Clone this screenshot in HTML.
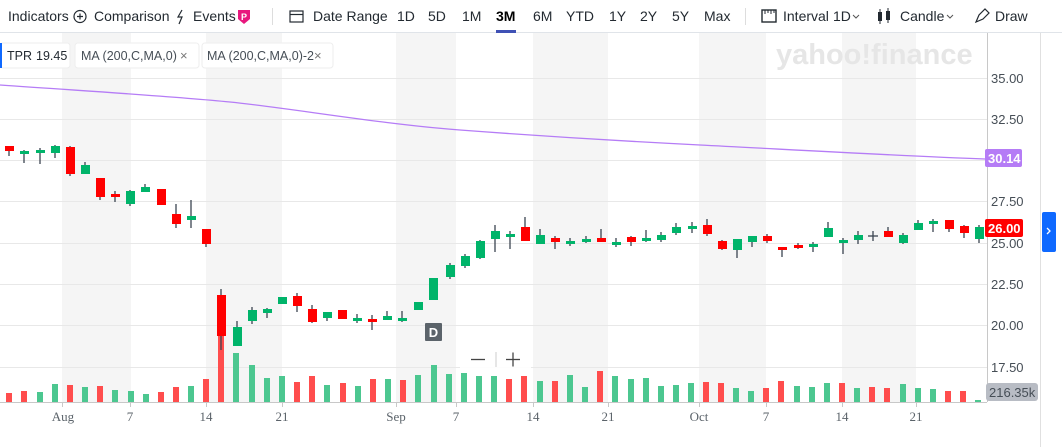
<!DOCTYPE html>
<html><head><meta charset="utf-8"><style>
body{margin:0;width:1062px;height:447px;overflow:hidden;background:#fff;font-family:"Liberation Sans",sans-serif;}
svg{position:absolute;left:0;top:0}
.tb{font-size:14px;fill:#232a31}
.ax{font-size:13px;fill:#464e56}
.xl{font-family:"Liberation Serif",serif;font-size:13px;fill:#5b636a}
</style></head><body>
<svg width="1062" height="447" xmlns="http://www.w3.org/2000/svg">
<g fill="#f5f5f5">
<rect x="62" y="33" width="69" height="369"/><rect x="206" y="33" width="76" height="369"/>
<rect x="396" y="33" width="60" height="369"/><rect x="533" y="33" width="75" height="369"/>
<rect x="699" y="33" width="67" height="369"/><rect x="842" y="33" width="74" height="369"/>
</g>
<g stroke="#e8e8e8" stroke-width="1">
<line x1="0" x2="987" y1="78.5" y2="78.5"/><line x1="0" x2="987" y1="119.5" y2="119.5"/>
<line x1="0" x2="987" y1="160.5" y2="160.5"/><line x1="0" x2="987" y1="201.5" y2="201.5"/>
<line x1="0" x2="987" y1="243.5" y2="243.5"/><line x1="0" x2="987" y1="284.5" y2="284.5"/>
<line x1="0" x2="987" y1="325.5" y2="325.5"/><line x1="0" x2="987" y1="367.5" y2="367.5"/>
</g>
<text x="776" y="64" font-size="29" font-weight="bold" fill="#e6e6e6" font-family="Liberation Sans,sans-serif">yahoo!finance</text>
<g fill="#ff4d4d">
<rect x="6" y="393" width="6" height="9"/><rect x="21" y="391" width="6" height="11"/>
<rect x="67" y="385" width="6" height="17"/><rect x="97" y="386" width="6" height="16"/>
<rect x="158" y="392" width="6" height="10"/><rect x="173" y="387" width="6" height="15"/>
<rect x="203" y="379" width="6" height="23"/><rect x="218" y="309" width="6" height="93"/>
<rect x="294" y="382" width="6" height="20"/><rect x="309" y="376" width="6" height="26"/>
<rect x="340" y="383" width="6" height="19"/><rect x="370" y="379" width="6" height="23"/>
<rect x="400" y="380" width="6" height="22"/><rect x="506" y="379" width="6" height="23"/>
<rect x="521" y="376" width="6" height="26"/><rect x="552" y="381" width="6" height="21"/>
<rect x="597" y="371" width="6" height="31"/><rect x="703" y="382" width="6" height="20"/>
<rect x="718" y="383" width="6" height="19"/><rect x="763" y="388" width="6" height="14"/>
<rect x="778" y="381" width="6" height="21"/><rect x="839" y="383" width="6" height="19"/>
<rect x="869" y="387" width="6" height="15"/><rect x="884" y="388" width="6" height="14"/>
<rect x="945" y="391" width="6" height="11"/><rect x="960" y="391" width="6" height="11"/>
</g>
<g fill="#4cc790">
<rect x="37" y="392" width="6" height="10"/><rect x="52" y="384" width="6" height="18"/>
<rect x="82" y="387" width="6" height="15"/><rect x="112" y="390" width="6" height="12"/>
<rect x="128" y="391" width="6" height="11"/><rect x="143" y="394" width="6" height="8"/>
<rect x="188" y="386" width="6" height="16"/><rect x="233" y="353" width="6" height="49"/>
<rect x="249" y="365" width="6" height="37"/><rect x="264" y="378" width="6" height="24"/>
<rect x="279" y="376" width="6" height="26"/><rect x="324" y="385" width="6" height="17"/>
<rect x="355" y="386" width="6" height="16"/><rect x="385" y="379" width="6" height="23"/>
<rect x="415" y="375" width="6" height="27"/><rect x="431" y="365" width="6" height="37"/>
<rect x="446" y="374" width="6" height="28"/><rect x="461" y="373" width="6" height="29"/>
<rect x="476" y="376" width="6" height="26"/><rect x="491" y="376" width="6" height="26"/>
<rect x="537" y="381" width="6" height="21"/><rect x="567" y="375" width="6" height="27"/>
<rect x="582" y="387" width="6" height="15"/><rect x="612" y="376" width="6" height="26"/>
<rect x="628" y="379" width="6" height="23"/><rect x="643" y="378" width="6" height="24"/>
<rect x="658" y="386" width="6" height="16"/><rect x="673" y="385" width="6" height="17"/>
<rect x="688" y="383" width="6" height="19"/><rect x="733" y="388" width="6" height="14"/>
<rect x="748" y="391" width="6" height="11"/><rect x="794" y="386" width="6" height="16"/>
<rect x="809" y="387" width="6" height="15"/><rect x="824" y="383" width="6" height="19"/>
<rect x="854" y="388" width="6" height="14"/><rect x="900" y="384" width="6" height="18"/>
<rect x="915" y="388" width="6" height="14"/><rect x="930" y="389" width="6" height="13"/>
<rect x="975" y="400" width="6" height="2"/>
</g>
<path d="M0 85 C100 92 170 96 230 102 S380 124 460 130 S620 141 700 145 S900 156 985 159" fill="none" stroke="#b57cf6" stroke-width="1.3"/>
<g stroke="#3b4450" stroke-width="1.3">
<line x1="9" x2="9" y1="146" y2="156"/><line x1="24" x2="24" y1="150" y2="163"/>
<line x1="40" x2="40" y1="148" y2="164"/><line x1="55" x2="55" y1="145" y2="158"/>
<line x1="70" x2="70" y1="146" y2="176"/><line x1="85" x2="85" y1="162" y2="174"/>
<line x1="100" x2="100" y1="178" y2="200"/><line x1="115" x2="115" y1="191" y2="202"/>
<line x1="130" x2="130" y1="190" y2="206"/><line x1="145" x2="145" y1="184" y2="192"/>
<line x1="176" x2="176" y1="204" y2="228"/><line x1="191" x2="191" y1="200" y2="228"/>
<line x1="206" x2="206" y1="229" y2="247"/><line x1="221" x2="221" y1="289" y2="350"/>
<line x1="237" x2="237" y1="321" y2="346"/><line x1="252" x2="252" y1="307" y2="324"/>
<line x1="267" x2="267" y1="308" y2="318"/><line x1="297" x2="297" y1="293" y2="312"/>
<line x1="312" x2="312" y1="305" y2="323"/><line x1="327" x2="327" y1="312" y2="321"/>
<line x1="357" x2="357" y1="314" y2="323"/><line x1="372" x2="372" y1="315" y2="330"/>
<line x1="387" x2="387" y1="311" y2="320"/><line x1="402" x2="402" y1="311" y2="322"/>
<line x1="450" x2="450" y1="263" y2="279"/><line x1="465" x2="465" y1="254" y2="268"/>
<line x1="480" x2="480" y1="240" y2="259"/><line x1="495" x2="495" y1="225" y2="252"/>
<line x1="510" x2="510" y1="231" y2="249"/><line x1="525" x2="525" y1="217" y2="241"/>
<line x1="540" x2="540" y1="229" y2="244"/><line x1="555" x2="555" y1="236" y2="249"/>
<line x1="570" x2="570" y1="238" y2="246"/><line x1="586" x2="586" y1="236" y2="243"/>
<line x1="601" x2="601" y1="229" y2="242"/><line x1="616" x2="616" y1="238" y2="247"/>
<line x1="631" x2="631" y1="236" y2="246"/><line x1="646" x2="646" y1="230" y2="242"/>
<line x1="661" x2="661" y1="232" y2="242"/><line x1="676" x2="676" y1="223" y2="235"/>
<line x1="692" x2="692" y1="222" y2="233"/><line x1="707" x2="707" y1="219" y2="236"/>
<line x1="722" x2="722" y1="240" y2="250"/><line x1="737" x2="737" y1="239" y2="258"/>
<line x1="752" x2="752" y1="236" y2="247"/><line x1="767" x2="767" y1="234" y2="243"/>
<line x1="782" x2="782" y1="247" y2="257"/><line x1="798" x2="798" y1="243" y2="249"/>
<line x1="813" x2="813" y1="242" y2="252"/><line x1="828" x2="828" y1="222" y2="237"/>
<line x1="843" x2="843" y1="238" y2="254"/><line x1="858" x2="858" y1="231" y2="244"/>
<line x1="873" x2="873" y1="231" y2="241"/><line x1="888" x2="888" y1="227" y2="237"/>
<line x1="903" x2="903" y1="233" y2="244"/><line x1="918" x2="918" y1="220" y2="230"/>
<line x1="933" x2="933" y1="219" y2="232"/><line x1="949" x2="949" y1="220" y2="232"/>
<line x1="964" x2="964" y1="225" y2="238"/><line x1="979" x2="979" y1="225" y2="243"/>
<line x1="868" x2="878" y1="236" y2="236"/>
</g>
<g fill="#ff0000">
<rect x="5" y="146" width="9" height="5"/><rect x="66" y="147" width="9" height="27"/>
<rect x="96" y="178" width="9" height="19"/><rect x="111" y="194" width="9" height="3"/>
<rect x="157" y="189" width="9" height="16"/><rect x="172" y="214" width="9" height="10"/>
<rect x="202" y="229" width="9" height="15"/><rect x="217" y="295" width="9" height="41"/>
<rect x="293" y="296" width="9" height="10"/><rect x="308" y="309" width="9" height="13"/>
<rect x="338" y="310" width="9" height="9"/><rect x="368" y="319" width="9" height="3"/>
<rect x="521" y="227" width="9" height="14"/><rect x="551" y="238" width="9" height="4"/>
<rect x="597" y="238" width="9" height="4"/><rect x="627" y="237" width="9" height="5"/>
<rect x="703" y="225" width="9" height="9"/><rect x="718" y="241" width="9" height="8"/>
<rect x="763" y="236" width="9" height="5"/><rect x="778" y="247" width="9" height="3"/>
<rect x="794" y="245" width="9" height="3"/><rect x="884" y="231" width="9" height="6"/>
<rect x="945" y="220" width="9" height="9"/><rect x="960" y="226" width="9" height="7"/>
</g>
<g fill="#00b46a">
<rect x="20" y="151" width="9" height="3"/><rect x="36" y="150" width="9" height="3"/>
<rect x="51" y="146" width="9" height="7"/><rect x="81" y="165" width="9" height="9"/>
<rect x="126" y="191" width="9" height="13"/><rect x="141" y="187" width="9" height="5"/>
<rect x="187" y="216" width="9" height="4"/><rect x="233" y="327" width="9" height="19"/>
<rect x="248" y="310" width="9" height="11"/><rect x="263" y="309" width="9" height="4"/>
<rect x="278" y="297" width="9" height="7"/><rect x="323" y="312" width="9" height="6"/>
<rect x="353" y="318" width="9" height="3"/><rect x="383" y="316" width="9" height="4"/>
<rect x="398" y="318" width="9" height="3"/><rect x="414" y="302" width="9" height="8"/>
<rect x="429" y="278" width="9" height="22"/><rect x="446" y="265" width="9" height="12"/>
<rect x="461" y="256" width="9" height="10"/><rect x="476" y="241" width="9" height="17"/>
<rect x="491" y="231" width="9" height="8"/><rect x="506" y="234" width="9" height="3"/>
<rect x="536" y="235" width="9" height="9"/><rect x="566" y="241" width="9" height="3"/>
<rect x="582" y="239" width="9" height="3"/><rect x="612" y="242" width="9" height="3"/>
<rect x="642" y="238" width="9" height="3"/><rect x="657" y="235" width="9" height="5"/>
<rect x="672" y="227" width="9" height="6"/><rect x="688" y="226" width="9" height="3"/>
<rect x="733" y="239" width="9" height="11"/><rect x="748" y="236" width="9" height="6"/>
<rect x="809" y="244" width="9" height="3"/><rect x="824" y="228" width="9" height="9"/>
<rect x="839" y="240" width="9" height="3"/><rect x="854" y="235" width="9" height="5"/>
<rect x="899" y="235" width="9" height="8"/><rect x="914" y="223" width="9" height="7"/>
<rect x="929" y="221" width="9" height="3"/><rect x="975" y="227" width="9" height="12"/>
</g>
<rect x="425" y="323" width="17" height="18" rx="1" fill="#5b636a"/>
<text x="433.5" y="337" font-size="13" fill="#fff" text-anchor="middle" font-weight="bold">D</text>
<rect x="460" y="347" width="71" height="25" rx="3" fill="#fff" opacity="0.9"/>
<line x1="471" x2="485" y1="359.5" y2="359.5" stroke="#444" stroke-width="1.3"/>
<line x1="496" x2="496" y1="352" y2="367" stroke="#ccc"/>
<line x1="506" x2="520" y1="359.5" y2="359.5" stroke="#444" stroke-width="1.3"/>
<line x1="513" x2="513" y1="352.5" y2="366.5" stroke="#444" stroke-width="1.3"/>
<line x1="0" x2="987" y1="402.5" y2="402.5" stroke="#c8c8c8"/>
<g stroke="#c8c8c8"><line x1="62.5" x2="62.5" y1="402" y2="407"/><line x1="130.5" x2="130.5" y1="402" y2="407"/><line x1="206.5" x2="206.5" y1="402" y2="407"/><line x1="282.5" x2="282.5" y1="402" y2="407"/><line x1="396.5" x2="396.5" y1="402" y2="407"/><line x1="456.5" x2="456.5" y1="402" y2="407"/><line x1="533.5" x2="533.5" y1="402" y2="407"/><line x1="608.5" x2="608.5" y1="402" y2="407"/><line x1="699.5" x2="699.5" y1="402" y2="407"/><line x1="766.5" x2="766.5" y1="402" y2="407"/><line x1="842.5" x2="842.5" y1="402" y2="407"/><line x1="916.5" x2="916.5" y1="402" y2="407"/></g>
<g class="xl" text-anchor="middle">
<text x="63" y="421">Aug</text><text x="130" y="421">7</text><text x="206" y="421">14</text><text x="282" y="421">21</text>
<text x="396" y="421">Sep</text><text x="456" y="421">7</text><text x="533" y="421">14</text><text x="608" y="421">21</text>
<text x="699" y="421">Oct</text><text x="766" y="421">7</text><text x="842" y="421">14</text><text x="916" y="421">21</text>
</g>
<line x1="987.5" x2="987.5" y1="33" y2="402" stroke="#c8c8c8"/>
<g class="ax">
<text x="991" y="83">35.00</text><text x="991" y="124">32.50</text><text x="991" y="206">27.50</text>
<text x="991" y="248">25.00</text><text x="991" y="289">22.50</text><text x="991" y="330">20.00</text><text x="991" y="372">17.50</text>
</g>
<rect x="985" y="149" width="37" height="18" rx="2" fill="#b57cf6"/>
<text x="988" y="163" font-size="13" font-weight="bold" fill="#fff">30.14</text>
<rect x="985" y="219" width="38" height="18" rx="2" fill="#ff0000"/>
<text x="988" y="233" font-size="13" font-weight="bold" fill="#fff">26.00</text>
<rect x="986" y="383" width="52" height="18" rx="3" fill="#b8bcc4"/>
<text x="989" y="397" font-size="13" fill="#464e56">216.35k</text>
<line x1="1040.5" x2="1040.5" y1="33" y2="447" stroke="#e0e0e0"/>
<rect x="1042" y="212" width="14" height="40" rx="2" fill="#0f69ff"/>
<path d="M1047 228 l3 3 l-3 3" fill="none" stroke="#fff" stroke-width="1.3"/>
<rect x="0" y="43" width="70" height="25" rx="3" fill="#fff" stroke="#eee"/>
<rect x="0" y="43" width="2" height="25" fill="#0f69ff"/>
<text x="7" y="60" font-size="12.5" fill="#232a31">TPR</text><text x="36" y="60" font-size="12.5" fill="#232a31">19.45</text>
<rect x="75" y="43" width="124" height="25" rx="3" fill="#fff" stroke="#eee"/>
<text x="81" y="60" font-size="12.5" fill="#464e56">MA (200,C,MA,0)</text>
<text x="180" y="60" font-size="13" fill="#777">×</text>
<rect x="202" y="43" width="131" height="25" rx="3" fill="#fff" stroke="#eee"/>
<text x="207" y="60" font-size="12.5" fill="#464e56">MA (200,C,MA,0)-2</text>
<text x="314" y="60" font-size="13" fill="#777">×</text>
<rect x="0" y="0" width="1062" height="32" fill="#fff"/>
<line x1="0" x2="1062" y1="32.5" y2="32.5" stroke="#e0e4e9"/>
<g class="tb">
<text x="8" y="21">Indicators</text>
<circle cx="80" cy="16.5" r="6" fill="none" stroke="#232a31" stroke-width="1.2"/>
<path d="M77 16.5h6M80 13.5v6" stroke="#232a31" stroke-width="1.2"/>
<text x="94" y="21">Comparison</text>
<path d="M182 10l-4 7h4l-3 7" fill="none" stroke="#232a31" stroke-width="1.2"/>
<text x="193" y="21">Events</text>
<path d="M238 10h12v9l-6 5l-6-5z" fill="#e8177e"/>
<text x="241" y="20" font-size="9" font-weight="bold" fill="#fff">P</text>
<line x1="272.5" x2="272.5" y1="8" y2="25" stroke="#ddd"/>
<rect x="290" y="11" width="13" height="11" fill="none" stroke="#232a31" stroke-width="1.2"/>
<line x1="290" x2="303" y1="14.5" y2="14.5" stroke="#232a31" stroke-width="1.2"/>
<text x="313" y="21">Date Range</text>
<text x="397" y="21">1D</text><text x="428" y="21">5D</text><text x="462" y="21">1M</text>
<text x="496" y="21" font-weight="bold" fill="#000">3M</text>
<text x="533" y="21">6M</text><text x="566" y="21">YTD</text><text x="609" y="21">1Y</text>
<text x="640" y="21">2Y</text><text x="672" y="21">5Y</text><text x="704" y="21">Max</text>
<line x1="745.5" x2="745.5" y1="8" y2="25" stroke="#ddd"/>
<rect x="762" y="10" width="14" height="12" fill="none" stroke="#232a31" stroke-width="1.4"/>
<path d="M765 10v4M768 10v3M771 10v4M774 10v3" stroke="#232a31"/>
<text x="783" y="21">Interval</text><text x="833" y="21">1D</text>
<path d="M853 15l3 3l3-3" fill="none" stroke="#555"/>
<rect x="878" y="12" width="4" height="9" fill="#232a31"/><line x1="880" x2="880" y1="9" y2="24" stroke="#232a31"/>
<rect x="886" y="11" width="4" height="9" fill="#232a31"/><line x1="888" x2="888" y1="8" y2="23" stroke="#232a31"/>
<text x="900" y="21">Candle</text>
<path d="M947 15l3 3l3-3" fill="none" stroke="#555"/>
<path d="M976 22l3-7l6-6l4 4l-6 6z" fill="none" stroke="#232a31" stroke-width="1.2"/>
<text x="995" y="21">Draw</text>
</g>
<rect x="496" y="30" width="20" height="3" fill="#3f51b5"/>
</svg>
</body></html>
